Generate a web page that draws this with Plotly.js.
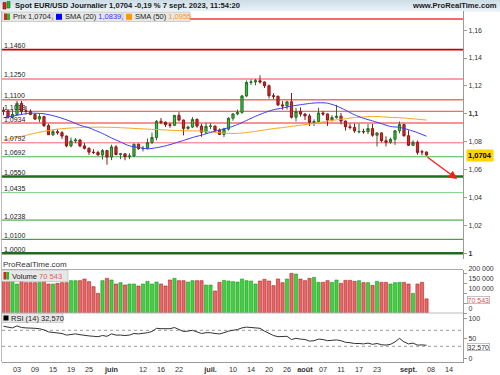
<!DOCTYPE html>
<html><head><meta charset="utf-8">
<script src="https://cdn.plot.ly/plotly-3.0.1.min.js"></script>
<style>
html,body{margin:0;padding:0;background:#fff;}
#hdr{position:absolute;left:0;top:0;width:500px;height:12px;background:linear-gradient(#cddde6,#eef4f7);}
#chart{position:absolute;left:0;top:0;width:500px;height:375px;}
</style></head><body>
<div id="hdr"></div><div id="chart"></div>
<script>
// ---------- DATA ----------
const dates = ['2023-04-28','2023-05-01','2023-05-02','2023-05-03','2023-05-04','2023-05-05','2023-05-08','2023-05-09','2023-05-10','2023-05-11',
'2023-05-12','2023-05-15','2023-05-16','2023-05-17','2023-05-18','2023-05-19','2023-05-22','2023-05-23','2023-05-24','2023-05-25',
'2023-05-26','2023-05-29','2023-05-30','2023-05-31','2023-06-01','2023-06-02','2023-06-05','2023-06-06','2023-06-07','2023-06-08',
'2023-06-09','2023-06-12','2023-06-13','2023-06-14','2023-06-15','2023-06-16','2023-06-19','2023-06-20','2023-06-21','2023-06-22',
'2023-06-23','2023-06-26','2023-06-27','2023-06-28','2023-06-29','2023-06-30','2023-07-03','2023-07-04','2023-07-05','2023-07-06',
'2023-07-07','2023-07-10','2023-07-11','2023-07-12','2023-07-13','2023-07-14','2023-07-17','2023-07-18','2023-07-19','2023-07-20',
'2023-07-21','2023-07-24','2023-07-25','2023-07-26','2023-07-27','2023-07-28','2023-07-31','2023-08-01','2023-08-02','2023-08-03',
'2023-08-04','2023-08-07','2023-08-08','2023-08-09','2023-08-10','2023-08-11','2023-08-14','2023-08-15','2023-08-16','2023-08-17',
'2023-08-18','2023-08-21','2023-08-22','2023-08-23','2023-08-24','2023-08-25','2023-08-28','2023-08-29','2023-08-30','2023-08-31',
'2023-09-01','2023-09-04','2023-09-05','2023-09-06','2023-09-07'];
const futureDates = ['2023-09-08','2023-09-11','2023-09-12','2023-09-13','2023-09-14','2023-09-15','2023-09-18','2023-09-19','2023-09-20'];

const open = [1.1025,1.1020,1.0975,1.0995,1.1075,1.1022,1.1017,1.0995,1.0962,1.0980,
1.0915,1.0850,1.0872,1.0865,1.0840,1.0770,1.0805,1.0812,1.0770,1.0752,
1.0725,1.0723,1.0705,1.0736,1.0690,1.0763,1.0708,1.0713,1.0692,1.0698,
1.0782,1.0750,1.0752,1.0793,1.0830,1.0946,1.0940,1.0922,1.0917,1.0989,
1.0955,1.0895,1.0905,1.0960,1.0912,1.0868,1.0910,1.0912,1.0882,1.0852,
1.0890,1.0968,1.0999,1.1010,1.1128,1.1225,1.1228,1.1237,1.1228,1.1201,
1.1130,1.1125,1.1064,1.1056,1.1086,1.0975,1.1016,1.0998,1.0985,1.0939,
1.0945,1.1006,1.0999,1.0955,1.0973,1.0983,1.0948,1.0907,1.0902,1.0870,
1.0873,1.0871,1.0894,1.0846,1.0863,1.0807,1.0796,1.0817,1.0878,1.0923,
1.0843,1.0774,1.0796,1.0728,1.0726];
const high = [1.1048,1.1030,1.1030,1.1092,1.1092,1.1055,1.1032,1.1000,1.0998,1.0985,
1.0928,1.0888,1.0890,1.0875,1.0845,1.0830,1.0825,1.0820,1.0790,1.0760,
1.0746,1.0735,1.0747,1.0741,1.0779,1.0775,1.0720,1.0717,1.0717,1.0786,
1.0787,1.0770,1.0823,1.0865,1.0955,1.0970,1.0945,1.0935,1.0990,1.1012,
1.0958,1.0914,1.0976,1.0968,1.0928,1.0935,1.0933,1.0915,1.0895,1.0900,
1.0975,1.1005,1.1030,1.1135,1.1238,1.1245,1.1249,1.1276,1.1232,1.1210,
1.1148,1.1132,1.1090,1.1090,1.1149,1.1043,1.1046,1.1005,1.1000,1.0960,
1.1043,1.1020,1.1002,1.0990,1.1064,1.1005,1.0952,1.0930,1.0930,1.0930,
1.0893,1.0926,1.0927,1.0868,1.0866,1.0838,1.0829,1.0882,1.0945,1.0929,
1.0882,1.0810,1.0808,1.0742,1.0730];
const low = [1.0990,1.0965,1.0967,1.0985,1.0995,1.0995,1.0990,1.0955,1.0940,1.0905,
1.0848,1.0840,1.0850,1.0820,1.0760,1.0760,1.0790,1.0760,1.0745,1.0705,
1.0712,1.0700,1.0672,1.0635,1.0668,1.0702,1.0675,1.0667,1.0675,1.0690,
1.0742,1.0730,1.0745,1.0785,1.0810,1.0925,1.0905,1.0900,1.0912,1.0945,
1.0845,1.0885,1.0900,1.0900,1.0835,1.0860,1.0890,1.0870,1.0850,1.0833,
1.0880,1.0950,1.0990,1.1000,1.1120,1.1207,1.1205,1.1215,1.1185,1.1110,
1.1105,1.1055,1.1030,1.1030,1.0966,1.0945,1.0980,1.0955,1.0912,1.0912,
1.0940,1.0985,1.0913,1.0945,1.0965,1.0924,1.0880,1.0888,1.0864,1.0860,
1.0857,1.0855,1.0835,1.0766,1.0795,1.0766,1.0785,1.0777,1.0860,1.0835,
1.0770,1.0768,1.0706,1.0702,1.0700];
const close = [1.1020,1.0975,1.0995,1.1075,1.1015,1.1017,1.0995,1.0962,1.0980,1.0915,
1.0850,1.0872,1.0865,1.0840,1.0770,1.0805,1.0812,1.0770,1.0752,1.0725,
1.0723,1.0705,1.0736,1.0690,1.0763,1.0708,1.0713,1.0692,1.0698,1.0782,
1.0750,1.0752,1.0793,1.0830,1.0946,1.0940,1.0922,1.0917,1.0989,1.0955,
1.0895,1.0905,1.0960,1.0912,1.0868,1.0910,1.0912,1.0882,1.0852,1.0890,
1.0968,1.0999,1.1010,1.1128,1.1225,1.1228,1.1237,1.1228,1.1201,1.1130,
1.1125,1.1064,1.1056,1.1086,1.0975,1.1016,1.0998,1.0985,1.0939,1.0945,
1.1006,1.0999,1.0955,1.0973,1.0983,1.0948,1.0907,1.0902,1.0877,1.0873,
1.0871,1.0894,1.0846,1.0863,1.0807,1.0796,1.0817,1.0878,1.0923,1.0843,
1.0774,1.0796,1.0723,1.0726,1.0704];

const volume = [156700,168300,161700,145000,161700,151700,151700,151700,153300,161700,
145000,145000,148300,151700,151700,161700,161700,161700,170000,156700,
131700,98300,161700,173300,165000,145000,151700,140000,145000,145000,
135000,145000,158300,145000,155000,145000,135000,165000,173300,161700,
161700,155000,161700,161700,161700,140000,140000,110000,153300,163300,
160000,156700,155000,170000,161700,160000,145000,160000,168300,160000,
136700,170000,151700,170000,198300,195000,170000,161700,173300,178300,
153300,153300,161700,153300,165000,148300,163300,163300,158300,161700,
151700,151700,138300,158300,153300,153300,145000,151700,153300,153300,
145000,98300,145000,153300,70543];

const rsi = [80,78,76,81,77,76,76,75,74,71,
66,65,63,62,58,60,61,59,57,56,
55,54,57,55,61,58,58,57,58,62,
61,62,64,67,75,74,74,74,77,72,
67,68,70,66,62,64,64,62,61,64,
68,70,72,76,78,77,76,75,68,62,
57,54,54,55,47,50,48,47,43,44,
48,47,44,45,46,44,40,39,37,37,
36,38,35,37,34,33,35,41,50,41,
36,38,33,33.5,32.57];

const sma20Dates = ['2023-04-28','2023-05-03','2023-05-08','2023-05-11','2023-05-16','2023-05-19','2023-05-23','2023-05-25','2023-05-26','2023-05-30',
'2023-06-01','2023-06-05','2023-06-07','2023-06-09','2023-06-13','2023-06-15','2023-06-19','2023-06-21','2023-06-23','2023-06-27',
'2023-06-29','2023-07-03','2023-07-05','2023-07-07','2023-07-11','2023-07-13','2023-07-17','2023-07-19','2023-07-21','2023-07-25',
'2023-07-27','2023-07-31','2023-08-02','2023-08-04','2023-08-08','2023-08-10','2023-08-14','2023-08-16','2023-08-18','2023-08-22',
'2023-08-24','2023-08-28','2023-08-30','2023-09-01','2023-09-05','2023-09-07'];
const sma20 = [1.0972,1.0990,1.1004,1.1000,1.0978,1.0945,1.0918,1.0900,1.0886,1.0859,
1.0827,1.0798,1.0770,1.0759,1.0749,1.0757,1.0770,1.0789,1.0809,1.0830,
1.0847,1.0866,1.0884,1.0900,1.0923,1.0952,1.0982,1.1008,1.1029,1.1041,
1.1055,1.1065,1.1074,1.1079,1.1076,1.1056,1.1026,1.0993,1.0968,1.0949,
1.0929,1.0909,1.0903,1.0886,1.0865,1.0839];

const sma50Dates = ['2023-04-28','2023-05-04','2023-05-10','2023-05-16','2023-05-22','2023-05-26','2023-06-01','2023-06-07','2023-06-13','2023-06-19',
'2023-06-23','2023-06-29','2023-07-05','2023-07-07','2023-07-11','2023-07-13','2023-07-17','2023-07-19','2023-07-21','2023-07-25',
'2023-07-27','2023-07-31','2023-08-02','2023-08-04','2023-08-08','2023-08-10','2023-08-14','2023-08-16','2023-08-18','2023-08-22',
'2023-08-24','2023-08-28','2023-08-30','2023-09-01','2023-09-05','2023-09-07'];
const sma50 = [1.0812,1.0838,1.0868,1.0890,1.0900,1.0904,1.0903,1.0897,1.0890,1.0884,
1.0878,1.0876,1.0864,1.0859,1.0860,1.0865,1.0874,1.0884,1.0894,1.0901,
1.0910,1.0918,1.0926,1.0936,1.0947,1.0957,1.0965,1.0973,1.0977,1.0981,
1.0979,1.0974,1.0972,1.0967,1.0961,1.0955];

const levels = [1.1680,1.1460,1.1250,1.1100,1.1018,1.0934,1.0792,1.0692,1.0550,1.0435,1.0238,1.0100,1.0000];
const levelLabels = ['','1,1460','1,1250','1,1100','1,1018','1,0934','1,0792','1,0692','1,0550','1,0435','1,0238','1,0100','1,0000'];

const tickDates = ['2023-05-03','2023-05-09','2023-05-15','2023-05-19','2023-05-25','2023-06-01','2023-06-12','2023-06-16','2023-06-22',
'2023-07-03','2023-07-10','2023-07-14','2023-07-20','2023-07-26','2023-08-01','2023-08-07','2023-08-11','2023-08-17','2023-08-23',
'2023-09-01','2023-09-08','2023-09-14'];
const tickLabels = ['03','09','15','19','25','<b>juin</b>','12','16','22','<b>juil.</b>','10','14','20','26','<b>août</b>','07','11','17','23','<b>sept.</b>','08','14'];

const priceTicks = [1.00,1.02,1.04,1.06,1.08,1.10,1.12,1.14,1.16];
const priceTickLabels = ['<b>1</b>','1,02','1,04','1,06','1,08','<b>1,1</b>','1,12','1,14','1,16'];
const volTicks = [0,50000,100000,150000,200000];
const volTickLabels = ['0','','100 000','150 000','200 000'];   // 50 000 sits behind the last-value box
const rsiTicks = [0,50,100];
const rsiTickLabels = ['0','50','100'];

const titleText = 'Spot EUR/USD Journalier 1,0704 -0,19 % 7 sept. 2023, 11:54:20';
const lastPriceText = '1,0704', sma20Text = '1,0839', sma50Text = '1,0955', volText = '70 543', rsiText = '32,570';

// ---------- STYLE / LAYOUT ----------
const levelColors = ['#f03a3a','#c40000','#f4a4a4','#f02424','#f04444','#e82a2a','#f26a6a','#4caf50','#1f6e1f','#80d080','#2f9a2f','#2a862a','#1f6a1f'];
const levelWidths = [1.5,1.6,2,1,1,1,1,1.2,2.6,1,1,1,2.6];

const W = 500, H = 375;
const px = v => v / W, py = v => 1 - v / H;
const calendar = dates.concat(futureDates);
const xi = d => calendar.indexOf(d);
const X = dates.map(xi);
const FONT = 'Liberation Sans, Arial, sans-serif';
const FS = 7;

const upDown = close.map((c, i) => c >= open[i]);
const volFill = upDown.map(u => u ? '#3fcf3f' : '#e86666');
const volEdge = upDown.map(u => u ? '#1f9a1f' : '#b02424');

const traces = [
  {type:'bar', x:X, y:volume, xaxis:'x', yaxis:'y2', width:0.72,
   marker:{color:volFill, line:{color:volEdge, width:0.6}}, hoverinfo:'skip'},
  {type:'candlestick', x:X, open:open, high:high, low:low, close:close, xaxis:'x', yaxis:'y',
   whiskerwidth:0,
   increasing:{line:{color:'#2a6a2a', width:1}, fillcolor:'#38c038'},
   decreasing:{line:{color:'#8a1a1a', width:1}, fillcolor:'#e02626'}, hoverinfo:'skip'},
  {type:'scatter', mode:'lines', x:sma50Dates.map(xi), y:sma50, xaxis:'x', yaxis:'y',
   line:{color:'#ffa31a', width:1, shape:'spline', smoothing:0.8}, hoverinfo:'skip'},
  {type:'scatter', mode:'lines', x:sma20Dates.map(xi), y:sma20, xaxis:'x', yaxis:'y',
   line:{color:'#3a3aff', width:1, shape:'spline', smoothing:0.8}, hoverinfo:'skip'},
  {type:'scatter', mode:'lines', x:X, y:rsi, xaxis:'x', yaxis:'y3',
   line:{color:'#333', width:1}, hoverinfo:'skip'}
];

const shapes = [];
levels.forEach((l, i) => shapes.push({type:'line', xref:'x domain', x0:0, x1:1, yref:'y', y0:l, y1:l,
  line:{color:levelColors[i], width:levelWidths[i]}, layer:'below'}));
[70, 30].forEach(v => shapes.push({type:'line', xref:'x domain', x0:0, x1:1, yref:'y3', y0:v, y1:v,
  line:{color:'#9a9a9a', width:1, dash:'3px,3px'}, layer:'below'}));
const hline = (y, c) => shapes.push({type:'line', xref:'paper', yref:'paper', x0:px(2), x1:px(463), y0:py(y), y1:py(y), line:{color:c, width:1}});
hline(269.5, '#aaa'); hline(313, '#bbb');
shapes.push({type:'line', xref:'paper', yref:'paper', x0:px(1.5), x1:px(1.5), y0:py(11), y1:py(362), line:{color:'#bbb', width:1}});
const rect = (x0, x1, y0, y1, fill, lc) => shapes.push({type:'rect', xref:'paper', yref:'paper', x0:px(x0), x1:px(x1), y0:py(y0), y1:py(y1), fillcolor:fill, line:{color:lc||fill, width:lc?0.6:0}});
rect(3, 6, 2.5, 9, '#d22', '#900'); rect(7, 10, 1.5, 8, '#2b2', '#070');
rect(2, 52, 12, 21.5, '#e7e7e7', '#b5b5b5');
rect(53, 122, 12, 21.5, '#e7e7e7', '#b5b5b5');
rect(123, 190, 12, 21.5, '#e7e7e7', '#b5b5b5');
rect(4, 7, 13.5, 20, '#d22'); rect(7, 10, 13.5, 20, '#2b2');
rect(56, 62, 13.8, 19.8, '#0000ff'); rect(126, 132, 13.8, 19.8, '#ff9900');
rect(1.5, 68, 270, 281.5, '#e7e7e7', '#b5b5b5');
rect(3.5, 6.3, 272, 279.5, '#d22'); rect(6.3, 9, 272, 279.5, '#2b2');
rect(1.5, 63, 313.5, 322.5, '#e7e7e7', '#b5b5b5');
rect(3.5, 8.5, 315.5, 320.5, '#000');

const ann = [];
levels.forEach((l, i) => { if (levelLabels[i]) ann.push({xref:'paper', x:px(2.5), xanchor:'left', yref:'y', y:l, yanchor:'bottom',
  text:levelLabels[i], showarrow:false, font:{size:FS, color:'#222'}, borderpad:0, yshift:-0.5}); });
const txt = (x, y, t, o) => ann.push(Object.assign({xref:'paper', yref:'paper', x:px(x), y:py(y), xanchor:'left', yanchor:'middle', text:t, showarrow:false, font:{size:7.5, color:'#222'}, borderpad:0}, o || {}));
txt(13.5, 5.5, '<b>' + titleText + '</b>', {font:{size:7.6, color:'#1a1a1a'}});
txt(498, 5.5, '<b>www.ProRealTime.com</b>', {xanchor:'right', font:{size:7.6, color:'#1a1a1a'}});
txt(11.5, 16.8, 'Prix ' + lastPriceText);
txt(64, 16.8, 'SMA (20) <span style="color:#3030ff">' + sma20Text + '</span>');
txt(134, 16.8, 'SMA (50) <span style="color:#f59a10">' + sma50Text + '</span>');
txt(1.5, 264.5, 'ProRealTime.com', {font:{size:8, color:'#333'}});
txt(10.5, 276, 'Volume <span style="color:#e06060">' + volText + '</span>');
txt(10, 318, 'RSI (14) ' + rsiText);
ann.push({xref:'paper', x:px(465.5), xanchor:'left', yref:'y', y:close[close.length-1], yanchor:'middle', text:'<b>' + lastPriceText + '</b>',
  showarrow:false, bgcolor:'#ffd400', borderpad:1, font:{size:7.5, color:'#000'}});
ann.push({xref:'paper', x:px(466.5), xanchor:'left', yref:'y2', y:volume[volume.length-1], yanchor:'middle', yshift:-1, text:volText,
  showarrow:false, bgcolor:'#fff', bordercolor:'#999', borderwidth:0.6, borderpad:0, font:{size:FS, color:'#e05050'}});
ann.push({xref:'paper', x:px(466.5), xanchor:'left', yref:'y3', y:rsi[rsi.length-1], yanchor:'middle', yshift:-2, text:rsiText,
  showarrow:false, bgcolor:'#fff', bordercolor:'#999', borderwidth:0.6, borderpad:0, font:{size:FS, color:'#333'}});
ann.push({xref:'x', yref:'y', axref:'x', ayref:'y', x:100.8, y:1.0532, ax:93.9, ay:1.0697, text:'', showarrow:true,
  arrowhead:2, arrowsize:1.3, arrowwidth:1.3, arrowcolor:'#ff1a1a'});

const yAxisBase = {side:'right', anchor:'x', showgrid:false, zeroline:false, showline:true, linecolor:'#9a9a9a', linewidth:1,
  ticks:'outside', ticklen:3, tickcolor:'#9a9a9a', tickfont:{size:FS, color:'#333', family:FONT}, fixedrange:true};

const layout = {
  width:W, height:H, margin:{l:0, r:0, t:0, b:0}, showlegend:false,
  paper_bgcolor:'rgba(0,0,0,0)', plot_bgcolor:'#fff', font:{family:FONT, size:FS, color:'#222'},
  xaxis:{domain:[px(2), px(463)], range:[-0.33, 102.11], anchor:'y3', tickvals:tickDates.map(xi), ticktext:tickLabels,
    showgrid:false, zeroline:false, showline:true, linecolor:'#9a9a9a', ticks:'', tickfont:{size:FS+0.3, color:'#333'},
    rangeslider:{visible:false}, fixedrange:true},
  yaxis:Object.assign({}, yAxisBase, {domain:[py(259), py(11)], range:[0.99591, 1.17369], tickvals:priceTicks, ticktext:priceTickLabels}),
  yaxis2:Object.assign({}, yAxisBase, {domain:[py(313), py(270)], range:[0, 215000], tickvals:volTicks, ticktext:volTickLabels, ticklabelshift:-4}),
  yaxis3:Object.assign({}, yAxisBase, {domain:[py(362), py(313)], range:[-9.25, 113.25], tickvals:rsiTicks, ticktext:rsiTickLabels}),
  shapes:shapes, annotations:ann
};
Plotly.newPlot('chart', traces, layout, {staticPlot:true, displayModeBar:false});
</script></body></html>
